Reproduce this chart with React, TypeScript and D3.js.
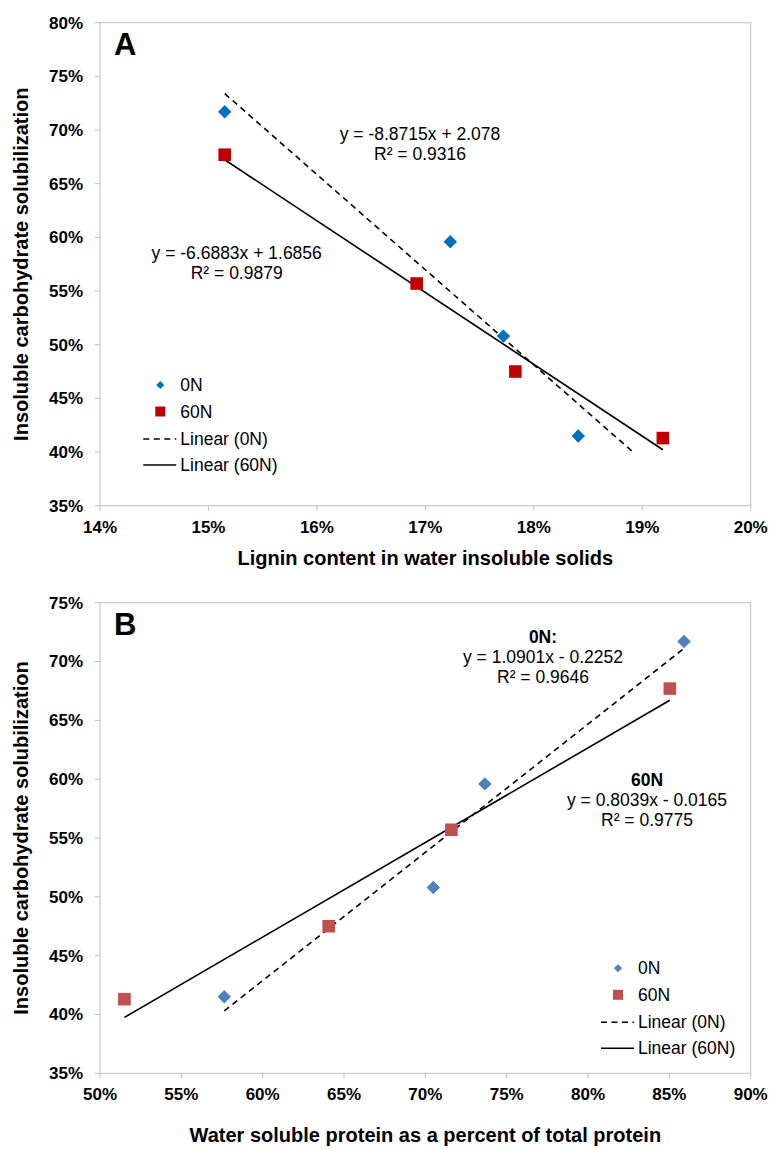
import React from "react";
import * as d3 from "d3";

// ---------- data ----------
const carb0N = [0.717, 0.596, 0.508, 0.415];
const carb60N = [0.677, 0.557, 0.475, 0.413];
const lignin0N = [0.1515, 0.1723, 0.1772, 0.1841];
const lignin60N = [0.1515, 0.1692, 0.1783, 0.1919];
const protein0N = [0.859, 0.7366, 0.7049, 0.5764];
const protein60N = [0.8503, 0.716, 0.6406, 0.515];

// trend lines: [slope, intercept, xStart, xEnd]
const trendA0N = [-8.8715, 2.078, 0.1515, 0.1891];
const trendA60N = [-6.6883, 1.6856, 0.1515, 0.1919];
const trendB0N = [1.0901, -0.2252, 0.5764, 0.859];
const trendB60N = [0.8039, -0.0165, 0.515, 0.8503];

const xTicksA = [0.14, 0.15, 0.16, 0.17, 0.18, 0.19, 0.2];
const yTicksA = [0.35, 0.4, 0.45, 0.5, 0.55, 0.6, 0.65, 0.7, 0.75, 0.8];
const xTicksB = [0.5, 0.55, 0.6, 0.65, 0.7, 0.75, 0.8, 0.85, 0.9];
const yTicksB = [0.35, 0.4, 0.45, 0.5, 0.55, 0.6, 0.65, 0.7, 0.75];

const seriesNames = ["0N", "60N", "Linear (0N)", "Linear (60N)"];
const yTitle = "Insoluble carbohydrate solubilization";
const xTitleA = "Lignin content in water insoluble solids";
const xTitleB = "Water soluble protein as a percent of total protein";

const FONT = "'Liberation Sans', Arial, Helvetica, sans-serif";
const AXIS = "#BFBFBF";
const fmt = d3.format(".0%");

type Ann = { text: string; x: number; y: number; bold?: boolean };

type PanelProps = {
  letter: string;
  top: number;
  bottom: number;
  xDomain: [number, number];
  yDomain: [number, number];
  xTicks: number[];
  yTicks: number[];
  x0: number[];
  x60: number[];
  trend0: number[];
  trend60: number[];
  blue: string;
  red: string;
  xTitle: string;
  xTitleY: number;
  annotations: Ann[];
  legend: { x: number; y: number };
};

const LEFT = 100;
const RIGHT = 750.7;

function Panel(p: PanelProps) {
  const xs = d3.scaleLinear().domain(p.xDomain).range([LEFT, RIGHT]);
  const ys = d3.scaleLinear().domain(p.yDomain).range([p.bottom, p.top]);
  const diamond = d3.symbol().type(d3.symbolDiamond2).size(115)();
  const legDiamond = d3.symbol().type(d3.symbolDiamond2).size(42)();
  const trendPath = (t: number[]) =>
    d3
      .line<number>()
      .x((v) => xs(v))
      .y((v) => ys(t[0] * v + t[1]))([t[2], t[3]]);
  const midY = (p.top + p.bottom) / 2;
  const lg = p.legend;
  return (
    <g fontFamily={FONT}>
      {/* plot border */}
      <rect
        x={LEFT}
        y={p.top}
        width={RIGHT - LEFT}
        height={p.bottom - p.top}
        fill="none"
        stroke={AXIS}
        strokeWidth={1}
      />
      {/* y ticks */}
      {p.yTicks.map((t) => (
        <g key={"y" + t}>
          <line x1={LEFT - 5} x2={LEFT} y1={ys(t)} y2={ys(t)} stroke={AXIS} />
          <text
            x={83}
            y={ys(t)}
            dy="0.35em"
            textAnchor="end"
            fontWeight="bold"
            fontSize={17}
            fill="#000"
          >
            {fmt(t)}
          </text>
        </g>
      ))}
      {/* x ticks */}
      {p.xTicks.map((t) => (
        <g key={"x" + t}>
          <line x1={xs(t)} x2={xs(t)} y1={p.bottom} y2={p.bottom + 5} stroke={AXIS} />
          <text
            x={xs(t)}
            y={p.bottom + 27}
            textAnchor="middle"
            fontWeight="bold"
            fontSize={17}
            fill="#000"
          >
            {fmt(t)}
          </text>
        </g>
      ))}
      {/* axis titles */}
      <text
        transform={`translate(28,${midY}) rotate(-90)`}
        textAnchor="middle"
        fontWeight="bold"
        fontSize={20}
      >
        {yTitle}
      </text>
      <text
        x={(LEFT + RIGHT) / 2}
        y={p.xTitleY}
        textAnchor="middle"
        fontWeight="bold"
        fontSize={20}
      >
        {p.xTitle}
      </text>
      {/* panel letter */}
      <text x={114} y={p.top + 32.5} fontWeight="bold" fontSize={31}>
        {p.letter}
      </text>
      {/* trend lines */}
      <path d={trendPath(p.trend0) || ""} stroke="#000" strokeWidth={1.6} strokeDasharray="6,4.5" fill="none" />
      <path d={trendPath(p.trend60) || ""} stroke="#000" strokeWidth={1.6} fill="none" />
      {/* markers */}
      {p.x0.map((v, i) => (
        <path
          key={"d" + i}
          d={diamond || ""}
          transform={`translate(${xs(v)},${ys(carb0N[i])})`}
          fill={p.blue}
        />
      ))}
      {p.x60.map((v, i) => (
        <rect
          key={"s" + i}
          x={xs(v) - 6.3}
          y={ys(carb60N[i]) - 6.3}
          width={12.6}
          height={12.6}
          fill={p.red}
        />
      ))}
      {/* annotations */}
      {p.annotations.map((a, i) => (
        <text
          key={"a" + i}
          x={a.x}
          y={a.y}
          dy="0.35em"
          textAnchor="middle"
          fontSize={17.5}
          fontWeight={a.bold ? "bold" : "normal"}
        >
          {a.text}
        </text>
      ))}
      {/* legend */}
      <g fontSize={17.5}>
        <path d={legDiamond || ""} transform={`translate(${lg.x + 17},${lg.y})`} fill={p.blue} />
        <text x={lg.x + 37} y={lg.y} dy="0.35em">
          {seriesNames[0]}
        </text>
        <rect x={lg.x + 12} y={lg.y + 26.5 - 5} width={10} height={10} fill={p.red} />
        <text x={lg.x + 37} y={lg.y + 26.5} dy="0.35em">
          {seriesNames[1]}
        </text>
        <line
          x1={lg.x}
          x2={lg.x + 33}
          y1={lg.y + 54}
          y2={lg.y + 54}
          stroke="#000"
          strokeWidth={1.6}
          strokeDasharray="6,4.5"
        />
        <text x={lg.x + 37} y={lg.y + 54} dy="0.35em">
          {seriesNames[2]}
        </text>
        <line x1={lg.x} x2={lg.x + 33} y1={lg.y + 80} y2={lg.y + 80} stroke="#000" strokeWidth={1.6} />
        <text x={lg.x + 37} y={lg.y + 80} dy="0.35em">
          {seriesNames[3]}
        </text>
      </g>
    </g>
  );
}

export default function App() {
  return (
    <svg
      width={769}
      height={1149}
      style={{ position: "absolute", left: 0, top: 0, background: "#fff" }}
    >
      <rect width={769} height={1149} fill="#fff" />
      <Panel
        letter="A"
        top={22.7}
        bottom={505.7}
        xDomain={[0.14, 0.2]}
        yDomain={[0.35, 0.8]}
        xTicks={xTicksA}
        yTicks={yTicksA}
        x0={lignin0N}
        x60={lignin60N}
        trend0={trendA0N}
        trend60={trendA60N}
        blue="#0070C0"
        red="#C00000"
        xTitle={xTitleA}
        xTitleY={565}
        annotations={[
          { text: "y = -8.8715x + 2.078", x: 420, y: 134 },
          { text: "R² = 0.9316", x: 420, y: 154 },
          { text: "y = -6.6883x + 1.6856", x: 236.7, y: 252.7 },
          { text: "R² = 0.9879", x: 236.7, y: 272.7 },
        ]}
        legend={{ x: 143.3, y: 385 }}
      />
      <Panel
        letter="B"
        top={602.7}
        bottom={1073.3}
        xDomain={[0.5, 0.9]}
        yDomain={[0.35, 0.75]}
        xTicks={xTicksB}
        yTicks={yTicksB}
        x0={protein0N}
        x60={protein60N}
        trend0={trendB0N}
        trend60={trendB60N}
        blue="#4F81BD"
        red="#C0504D"
        xTitle={xTitleB}
        xTitleY={1142}
        annotations={[
          { text: "0N:", x: 543, y: 636.7, bold: true },
          { text: "y = 1.0901x - 0.2252", x: 543, y: 656.7 },
          { text: "R² = 0.9646", x: 543, y: 676.7 },
          { text: "60N", x: 647, y: 780, bold: true },
          { text: "y = 0.8039x - 0.0165", x: 647, y: 800 },
          { text: "R² = 0.9775", x: 647, y: 820 },
        ]}
        legend={{ x: 601, y: 968.3 }}
      />
    </svg>
  );
}
